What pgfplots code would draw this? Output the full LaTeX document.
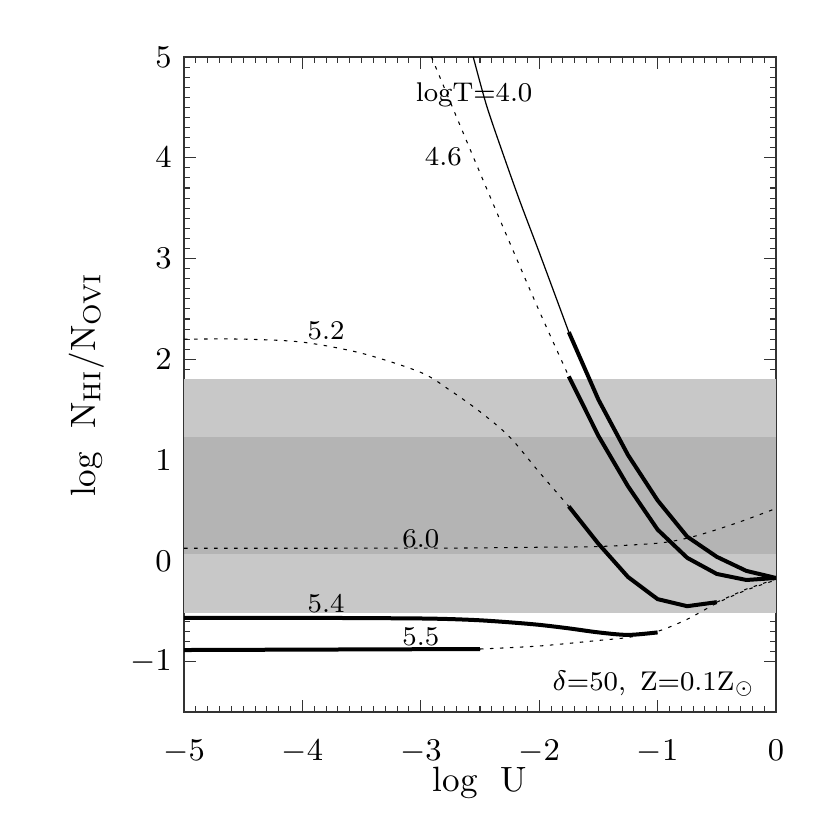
\documentclass[border=0pt]{standalone}
\usepackage{pgfplots}
\pgfplotsset{compat=1.18}
\definecolor{bandlight}{RGB}{200,200,200}
\definecolor{banddark}{RGB}{180,180,180}
\newcommand{\tickfont}{\fontsize{9.3}{11}\selectfont}
\newcommand{\labfont}{\fontsize{10}{12}\selectfont}
\newcommand{\curvefont}{\fontsize{7.7}{9}\selectfont}
\begin{document}
\begin{tikzpicture}
\begin{axis}[
  name=ax,
  scale only axis, width=59.2mm, height=65.5mm,
  xmin=-5, xmax=0, ymin=-1.5, ymax=5,
  xtick={-5,-4,...,0}, ytick={-1,0,...,5},
  minor x tick num=9, minor y tick num=9,
  tick align=inside,
  major tick length=1.2mm, minor tick length=0.6mm,
  axis line style={line width=0.35pt, black!80},
  every tick/.style={line width=0.3pt, black!80},
  tick label style={font=\tickfont},
  xticklabel style={yshift=-1.6mm},
  xlabel={log\ \ U},
  ylabel={log\ \ N$_{\rm HI}$/N$_{\rm OVI}$},
  label style={font=\labfont},
  xlabel style={at={(axis description cs:0.5,-0.1221)}, anchor=base},
  ylabel style={at={(axis description cs:-0.1503,0.5)}, anchor=base},
  dotline/.style={black, line width=0.3pt, dash pattern=on 0.35mm off 0.65mm},
  thickline/.style={black, line width=0.4mm, line join=round},
  thinline/.style={black, line width=0.35pt},
]
% observed ranges
\addplot[fill=bandlight, draw=none] coordinates {(-5,-0.52) (0,-0.52) (0,1.80) (-5,1.80)} --cycle;
\addplot[fill=banddark, draw=none] coordinates {(-5,0.07) (0,0.07) (0,1.23) (-5,1.23)} --cycle;

% logT = 4.0
\addplot[thinline, smooth] coordinates {(-2.557,5.0) (-2.445,4.52) (-2.303,4.03) (-2.162,3.565) (-1.993,3.04) (-1.75,2.27)};
\addplot[thickline] coordinates {(-1.75,2.27) (-1.5,1.60) (-1.25,1.05) (-1.0,0.60) (-0.75,0.24) (-0.5,0.04) (-0.25,-0.10) (0,-0.17)};

% logT = 4.6
\addplot[dotline, smooth] coordinates {(-2.91,5.0) (-2.75,4.55) (-2.5,3.85) (-2.25,3.16) (-2.0,2.48) (-1.75,1.83)};
\addplot[thickline] coordinates {(-1.75,1.83) (-1.5,1.24) (-1.25,0.74) (-1.0,0.31) (-0.75,0.03) (-0.5,-0.13) (-0.25,-0.19) (0,-0.17)};

% logT = 5.2
\addplot[dotline, smooth] coordinates {(-5,2.20) (-4.5,2.20) (-4.0,2.17) (-3.5,2.06) (-3.0,1.87) (-2.75,1.69) (-2.5,1.48) (-2.25,1.23) (-2.0,0.88) (-1.75,0.54)};
\addplot[thickline] coordinates {(-1.75,0.54) (-1.5,0.17) (-1.25,-0.16) (-1.0,-0.38) (-0.75,-0.45) (-0.5,-0.41)};
\addplot[dotline] coordinates {(-0.5,-0.41) (-0.25,-0.28) (0,-0.18)};

% logT = 5.4
\addplot[thickline, smooth] coordinates {(-5,-0.565) (-4.5,-0.565) (-4.0,-0.566) (-3.5,-0.568) (-3.0,-0.572) (-2.75,-0.578) (-2.5,-0.59) (-2.25,-0.61) (-2.0,-0.635) (-1.75,-0.67) (-1.5,-0.71) (-1.25,-0.735) (-1.0,-0.71)};

% logT = 5.5
\addplot[thickline] coordinates {(-5,-0.885) (-2.5,-0.875)};
\addplot[dotline, smooth] coordinates {(-2.5,-0.875) (-2.0,-0.845) (-1.5,-0.79) (-1.25,-0.76) (-1.0,-0.70) (-0.75,-0.58) (-0.5,-0.42) (-0.25,-0.29) (0,-0.19)};

% logT = 6.0
\addplot[dotline, smooth] coordinates {(-5,0.125) (-4,0.125) (-3,0.126) (-2.75,0.126) (-2.0,0.135) (-1.5,0.142) (-1.0,0.175) (-0.75,0.225) (-0.5,0.31) (-0.25,0.41) (0,0.52)};

% curve labels
\node[font=\curvefont] at (axis cs:-2.55,4.62) {logT=4.0};
\node[font=\curvefont] at (axis cs:-2.81,4.01) {4.6};
\node[font=\curvefont] at (axis cs:-3.80,2.28) {5.2};
\node[font=\curvefont] at (axis cs:-3.00,0.22) {6.0};
\node[font=\curvefont] at (axis cs:-3.80,-0.42) {5.4};
\node[font=\curvefont] at (axis cs:-3.00,-0.75) {5.5};
\node[font=\curvefont, anchor=base east, inner sep=0pt] at (axis cs:-0.17,-1.285) {$\delta$=50,\ \,Z=0.1Z$_\odot$};
\end{axis}
\path ([shift={(-18.4mm,-11.8mm)}]ax.south west) rectangle ([shift={(5.4mm,5.7mm)}]ax.north east);
\end{tikzpicture}
\end{document}
